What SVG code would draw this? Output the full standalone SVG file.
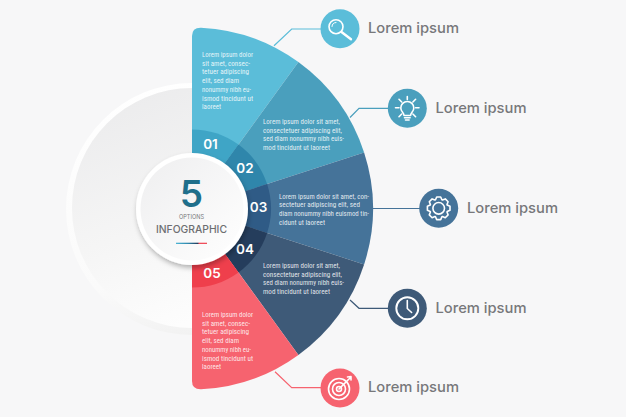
<svg xmlns="http://www.w3.org/2000/svg" width="626" height="417" viewBox="0 0 626 417">
<style>
.b{font-family:"Liberation Sans Narrow","Roboto Condensed",Roboto,"Liberation Sans",sans-serif;font-size:8px;fill:#fff;fill-opacity:.85}
.n{font-family:Inter,"Open Sans",sans-serif;font-size:13.5px;font-weight:600;fill:#fff;text-anchor:middle}
.l{font-family:Inter,"Open Sans",sans-serif;font-size:14.5px;font-weight:500;fill:#77787b}
.ic{fill:none;stroke:#fff;stroke-width:1.6;stroke-linecap:round;stroke-linejoin:round}
.c{fill:none;stroke-width:1.2}
</style>
<defs>
<linearGradient id="disc" x1=".2" y1=".05" x2=".55" y2=".95"><stop offset="0" stop-color="#ececed"/><stop offset=".55" stop-color="#f5f5f5"/><stop offset="1" stop-color="#fdfdfd"/></linearGradient>
<linearGradient id="rim" x1=".3" y1="0" x2=".5" y2="1"><stop offset="0" stop-color="#fff"/><stop offset=".75" stop-color="#fafafa"/><stop offset="1" stop-color="#f2f2f2"/></linearGradient>
<linearGradient id="hub" x1=".1" y1=".1" x2=".9" y2=".9"><stop offset="0" stop-color="#f0f0f1"/><stop offset="1" stop-color="#fdfdfd"/></linearGradient>
<linearGradient id="bar"><stop offset="0" stop-color="#4fb6d5"/><stop offset=".4" stop-color="#2f86ab"/><stop offset=".7" stop-color="#253d5c"/><stop offset=".75" stop-color="#ef4f5c"/><stop offset="1" stop-color="#ef4f5c"/></linearGradient>
<filter id="s2" x="-20%" y="-20%" width="140%" height="140%"><feDropShadow dx="1" dy="3" stdDeviation="2.5" flood-color="#000" flood-opacity=".28"/></filter>
</defs>
<rect width="626" height="417" fill="#f7f7f8"/>
<g id="backdrop">
<circle cx="192" cy="209" r="126" fill="url(#rim)"/>
<circle cx="192" cy="208" r="120" fill="url(#disc)"/>
</g>
<g id="connectors">
<path class="c" stroke="#5bbdd9" d="M274 45.7L291.7 29H321"/>
<path class="c" stroke="#4a9fbd" d="M350 117.5L359 108.3H388"/>
<path class="c" stroke="#457399" d="M372 208.5H420"/>
<path class="c" stroke="#3e5a78" d="M350 300L359 308.3H388"/>
<path class="c" stroke="#f6636f" d="M275 371.7L291.7 387.7H321"/>
</g>
<g id="slice-1">
<path fill="#5bbdd9" d="M192 208.5V36Q192 27.5 201 27.7A181 181 0 0 1 298.4 62.1L192 208.5Z"/>
<path fill="#3fa5c6" d="M192 208.5V129.5A79 79 0 0 1 238.4 144.6Z"/>
<text class="n" x="210.5" y="149">01</text>
<g class="b"><text x="202" y="57" textLength="51" lengthAdjust="spacingAndGlyphs">Lorem ipsum dolor</text><text x="202" y="65.7" textLength="48" lengthAdjust="spacingAndGlyphs">sit amet, consec-</text><text x="202" y="74.4" textLength="47" lengthAdjust="spacingAndGlyphs">tetuer adipiscing</text><text x="202" y="83" textLength="37" lengthAdjust="spacingAndGlyphs">elit, sed diam</text><text x="202" y="91.7" textLength="49" lengthAdjust="spacingAndGlyphs">nonummy nibh eu-</text><text x="202" y="100.6" textLength="51" lengthAdjust="spacingAndGlyphs">ismod tincidunt ut</text><text x="202" y="109.3" textLength="19" lengthAdjust="spacingAndGlyphs">laoreet</text></g>
</g>
<g id="slice-2">
<path fill="#4a9fbd" d="M192 208.5L298.4 62.1A181 181 0 0 1 364.1 152.6Z"/>
<path fill="#2f86ab" d="M192 208.5L238.4 144.6A79 79 0 0 1 267.1 184.1Z"/>
<text class="n" x="245" y="173">02</text>
<g class="b"><text x="263" y="123.6" textLength="77" lengthAdjust="spacingAndGlyphs">Lorem ipsum dolor sit amet,</text><text x="263" y="132.5" textLength="79" lengthAdjust="spacingAndGlyphs">consectetuer adipiscing elit,</text><text x="263" y="141.2" textLength="81" lengthAdjust="spacingAndGlyphs">sed diam nonummy nibh euis-</text><text x="263" y="149.9" textLength="67" lengthAdjust="spacingAndGlyphs">mod tincidunt ut laoreet</text></g>
</g>
<g id="slice-3">
<path fill="#457399" d="M192 208.5L364.1 152.6A181 181 0 0 1 364.1 264.4Z"/>
<path fill="#2f5b86" d="M192 208.5L267.1 184.1A79 79 0 0 1 267.1 232.9Z"/>
<text class="n" x="258.5" y="212">03</text>
<g class="b"><text x="279" y="198.6" textLength="90" lengthAdjust="spacingAndGlyphs">Lorem ipsum dolor sit amet, con-</text><text x="279" y="207.3" textLength="81" lengthAdjust="spacingAndGlyphs">sectetuer adipiscing elit, sed</text><text x="279" y="216.2" textLength="90" lengthAdjust="spacingAndGlyphs">diam nonummy nibh euismod tin-</text><text x="279" y="224.9" textLength="46" lengthAdjust="spacingAndGlyphs">cidunt ut laoreet</text></g>
</g>
<g id="slice-4">
<path fill="#3e5a78" d="M192 208.5L364.1 264.4A181 181 0 0 1 298.4 354.9Z"/>
<path fill="#253d5c" d="M192 208.5L267.1 232.9A79 79 0 0 1 238.4 272.4Z"/>
<text class="n" x="245" y="253.5">04</text>
<g class="b"><text x="263" y="267.9" textLength="77" lengthAdjust="spacingAndGlyphs">Lorem ipsum dolor sit amet,</text><text x="263" y="276.6" textLength="79" lengthAdjust="spacingAndGlyphs">consectetuer adipiscing elit,</text><text x="263" y="285.3" textLength="81" lengthAdjust="spacingAndGlyphs">sed diam nonummy nibh euis-</text><text x="263" y="294.2" textLength="67" lengthAdjust="spacingAndGlyphs">mod tincidunt ut laoreet</text></g>
</g>
<g id="slice-5">
<path fill="#f6636f" d="M192 208.5L298.4 354.9A181 181 0 0 1 201 389.3Q192 389.5 192 381Z"/>
<path fill="#ef3f4c" d="M192 208.5L238.4 272.4A79 79 0 0 1 192 287.5Z"/>
<text class="n" x="212" y="278">05</text>
<g class="b"><text x="202" y="316.6" textLength="51" lengthAdjust="spacingAndGlyphs">Lorem ipsum dolor</text><text x="202" y="325.5" textLength="48" lengthAdjust="spacingAndGlyphs">sit amet, consec-</text><text x="202" y="334.2" textLength="47" lengthAdjust="spacingAndGlyphs">tetuer adipiscing</text><text x="202" y="342.9" textLength="37" lengthAdjust="spacingAndGlyphs">elit, sed diam</text><text x="202" y="351.6" textLength="49" lengthAdjust="spacingAndGlyphs">nonummy nibh eu-</text><text x="202" y="360.5" textLength="51" lengthAdjust="spacingAndGlyphs">ismod tincidunt ut</text><text x="202" y="369.2" textLength="19" lengthAdjust="spacingAndGlyphs">laoreet</text></g>
</g>
<g id="hub">
<circle cx="192" cy="209" r="56" fill="#fff" filter="url(#s2)"/>
<circle cx="192" cy="209" r="51.5" fill="url(#hub)"/>
<text x="191.5" y="206.7" text-anchor="middle" font-family="Inter,'Open Sans',sans-serif" font-size="37" font-weight="600" fill="#1f6f8b">5</text>
<text x="179" y="219" textLength="25" lengthAdjust="spacingAndGlyphs" font-family="Inter,'Open Sans',sans-serif" font-size="6" fill="#77787b">OPTIONS</text>
<text x="156" y="233" textLength="71" lengthAdjust="spacingAndGlyphs" font-family="Inter,'Open Sans',sans-serif" font-size="10.5" font-weight="500" fill="#6d6e71">INFOGRAPHIC</text>
<rect x="176" y="242.7" width="31" height="1.3" fill="url(#bar)"/>
</g>
<g id="option-1">
<circle cx="340" cy="28.7" r="19.5" fill="#5bbdd9"/>
<circle class="ic" cx="336" cy="26.7" r="7"/>
<path class="ic" style="stroke-width:2.4" d="M341.5 32L351 39.3"/>
<path class="ic" style="stroke-width:1" d="M332 26.5A4.2 4.2 0 0 1 336 22.5"/>
<text class="l" x="368" y="33" textLength="91" lengthAdjust="spacingAndGlyphs">Lorem ipsum</text>
</g>
<g id="option-2">
<circle cx="407.3" cy="108.3" r="19.5" fill="#4a9fbd"/>
<path class="ic" d="M404 115.5C404 112.5 400.8 112 400.8 108A6.5 6.5 0 0 1 413.8 108C413.8 112 410.6 112.5 410.6 115.5Z"/>
<path class="ic" d="M404.5 117.8H410.1M405.5 120H409.1M407.3 96.5V99.5M395.5 107.7H399M415.6 107.7H419M399 99.3L401.7 102M415.6 99.3L412.9 102M399 116.7L401.7 114M415.6 116.7L412.9 114"/>
<text class="l" x="435.5" y="113" textLength="91" lengthAdjust="spacingAndGlyphs">Lorem ipsum</text>
</g>
<g id="option-3">
<circle cx="438.7" cy="208.3" r="19.5" fill="#457399"/>
<path class="ic" transform="translate(438.7 208.3)" d="M-3.2-8.5L-2-11.3H2L3.2-8.5L3.75-8.27L6.58-9.4L9.4-6.58L8.27-3.75L8.5-3.2L11.3-2V2L8.5 3.2L8.27 3.75L9.4 6.58L6.58 9.4L3.75 8.27L3.2 8.5L2 11.3H-2L-3.2 8.5L-3.75 8.27L-6.58 9.4L-9.4 6.58L-8.27 3.75L-8.5 3.2L-11.3 2V-2L-8.5-3.2L-8.27-3.75L-9.4-6.58L-6.58-9.4L-3.75-8.27Z"/>
<circle class="ic" cx="438.7" cy="208.3" r="5.8"/>
<text class="l" x="467" y="213" textLength="91" lengthAdjust="spacingAndGlyphs">Lorem ipsum</text>
</g>
<g id="option-4">
<circle cx="407.3" cy="308.3" r="19.5" fill="#3e5a78"/>
<circle class="ic" style="stroke-width:1.9" cx="407.3" cy="308.3" r="11"/>
<path class="ic" d="M407.3 300.5V308.5L411.6 312.5"/>
<text class="l" x="435.5" y="313" textLength="91" lengthAdjust="spacingAndGlyphs">Lorem ipsum</text>
</g>
<g id="option-5">
<circle cx="340" cy="388" r="19.5" fill="#f6636f"/>
<circle class="ic" cx="339" cy="389" r="10.5"/>
<circle class="ic" cx="339" cy="389" r="6.5"/>
<circle class="ic" cx="339" cy="389" r="2.5"/>
<path class="ic" d="M339 389L350 378M347.5 377L351 376.5L351 380"/>
<text class="l" x="368" y="392" textLength="91" lengthAdjust="spacingAndGlyphs">Lorem ipsum</text>
</g>
</svg>
